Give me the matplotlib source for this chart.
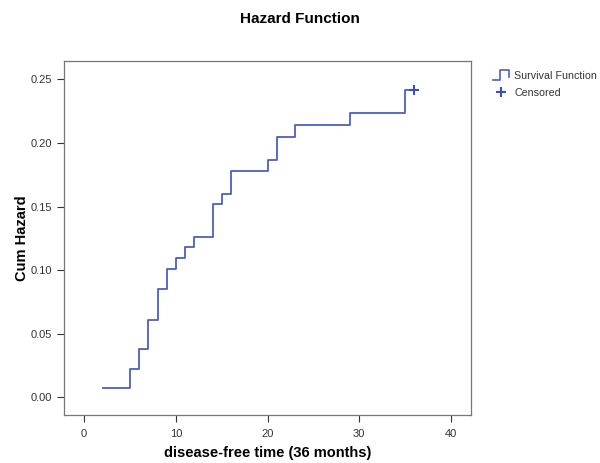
import numpy as np
import matplotlib.pyplot as plt
from matplotlib.legend_handler import HandlerBase
from matplotlib.lines import Line2D

plt.rcParams['font.family'] = ['Liberation Sans', 'DejaVu Sans']

# данные: время (месяцы) и кумулятивный риск
times = [2, 5, 6, 7, 8, 9, 10, 11, 12, 14, 15, 16, 20, 21, 23, 29, 35, 36]
cum_hazard = [0.0075, 0.0225, 0.038, 0.061, 0.085, 0.101, 0.1095, 0.118, 0.126,
              0.152, 0.160, 0.178, 0.187, 0.2045, 0.214, 0.2233, 0.242, 0.242]
censored_t = [36]
censored_h = [0.242]

line_color = '#4a5fc4'


class StepHandler(HandlerBase):
    # значок ступеньки в легенде
    def create_artists(self, legend, orig_handle, xdescent, ydescent,
                       width, height, fontsize, trans):
        x0 = -xdescent
        w = width
        xs = [x0, x0 + w * 0.45, x0 + w * 0.45, x0 + w * 0.95, x0 + w * 0.95]
        ys = [-1, -1, height + 1, height + 1, 1]
        ln = Line2D(xs, ys, color=line_color, linewidth=1.2, transform=trans)
        return [ln]


fig = plt.figure(figsize=(6, 4.63), dpi=100)
ax = fig.add_axes([0.1067, 0.1037, 0.6783, 0.7643])

step_line, = ax.step(times, cum_hazard, where='post', color=line_color, linewidth=1.3)
cens, = ax.plot(censored_t, censored_h, linestyle='none', marker='+',
                markersize=7, markeredgewidth=1.5, color='#3a4fb8')

ax.set_xlim(-2.2, 42.2)
ax.set_ylim(-0.0139, 0.2644)
ax.set_xticks([0, 10, 20, 30, 40])
ax.set_yticks([0.0, 0.05, 0.10, 0.15, 0.20, 0.25])
ax.set_yticklabels(['0.00', '0.05', '0.10', '0.15', '0.20', '0.25'])
ax.tick_params(direction='out', length=5, width=0.8, labelsize=8, colors='#333333')
ax.tick_params(axis='x', pad=5)

for s in ax.spines.values():
    s.set_color('#777777')
    s.set_linewidth(0.9)

ax.set_xlabel('disease-free time (36 months)', fontsize=10.5, fontweight='bold', labelpad=5)
ax.set_ylabel('Cum Hazard', fontsize=10.5, fontweight='bold', labelpad=1)
fig.text(0.5, 0.958, 'Hazard Function', ha='center', va='center',
         fontsize=11, fontweight='bold')

leg = ax.legend([step_line, cens], ['Survival Function', 'Censored'],
                handler_map={step_line: StepHandler()},
                loc='upper left', bbox_to_anchor=(1.043, 0.985),
                frameon=False, fontsize=7.7, handlelength=1.6,
                handletextpad=0.4, labelspacing=0.65, borderaxespad=0)
for t in leg.get_texts():
    t.set_color('#333333')

fig.savefig('out.png', dpi=100)
